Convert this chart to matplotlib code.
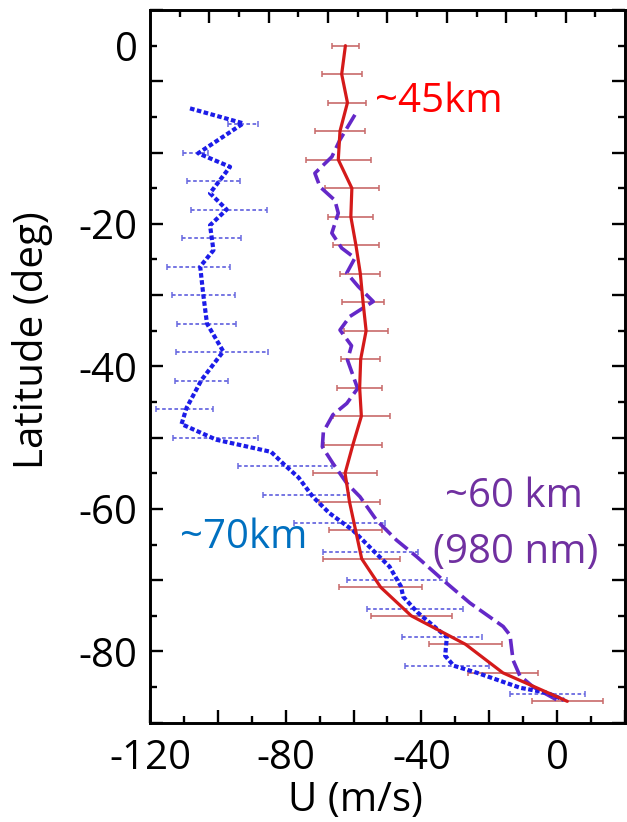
import matplotlib.pyplot as plt
import numpy as np

plt.rcParams['font.family'] = ['Open Sans', 'DejaVu Sans']

# ~45 km profile (red): latitude, zonal wind, error half width
lat45 = [5, 1, -3, -7, -11, -15, -19, -23, -27, -31, -35, -39, -43, -47,
         -51, -55, -59, -63, -67, -71, -75, -79, -83, -87]
u45 = [-62.4, -63.5, -61.8, -64.0, -64.5, -60.5, -60.8, -59.3, -58.0, -57.2,
       -56.3, -57.9, -58.2, -57.7, -60.2, -62.5, -61.2, -59.4, -57.6, -52.0,
       -43.0, -27.0, -16.0, 3.0]
err45 = [4.0, 5.9, 5.6, 7.4, 9.6, 8.0, 6.6, 6.9, 5.9, 6.3, 6.5, 5.7, 6.7, 8.4,
         8.6, 9.4, 9.1, 7.7, 11.3, 12.2, 12.0, 10.8, 10.4, 10.5]

# ~70 km profile (blue): curve
lat70 = [-3.8, -5.9, -10.1, -12.0, -15.7, -18.0, -20.2, -23.7, -26.0, -29.9,
         -34.0, -37.9, -41.9, -45.8, -48.1, -50.3, -52.0, -53.8, -55.6, -58.3,
         -60.6, -63.0, -65.8, -68.1, -70.9, -72.3, -74.5, -78.0, -80.6, -82.0,
         -83.0, -85.1, -85.8, -86.8]
u70 = [-108.2, -92.5, -105.8, -96.4, -102.3, -97.4, -102.3, -101.3, -105.2,
       -104.3, -103.2, -98.4, -104.8, -109.2, -110.7, -100.4, -84.3, -80.4,
       -76.2, -72.0, -67.1, -60.2, -54.3, -49.4, -46.0, -45.4, -41.2, -32.5,
       -33.0, -30.5, -23.6, -10.9, -3.0, 2.0]
# ~70 km error bars
lat70_bar = [-6, -10, -14, -18, -22, -26, -30, -34, -38, -42, -46, -50, -54,
             -58, -62, -66, -70, -74, -78, -82, -86]
u70_bar = [-92.5, -106.5, -101.3, -96.8, -101.9, -105.7, -104.3, -103.3,
           -98.7, -104.9, -109.8, -100.7, -80.3, -73.9, -64.2, -55.0, -47.3,
           -41.9, -34.0, -32.5, -2.9]
err70 = [4.4, 3.7, 7.9, 11.2, 8.8, 9.3, 9.3, 8.8, 13.6, 7.8, 8.4, 12.6, 13.8,
         12.7, 13.4, 14.1, 14.7, 14.2, 11.8, 12.3, 11.1]

# ~60 km profile (980 nm, purple)
lat60 = [-4.7, -8.2, -10.6, -12.9, -14.8, -16.7, -18.5, -21.3, -23.4, -24.8,
         -26.9, -28.8, -30.9, -33.0, -34.9, -37.1, -39.1, -43.1, -45.2, -46.8,
         -49.2, -51.3, -53.6, -56.4, -58.3, -61.6, -64.4, -66.7, -70.0, -73.2,
         -76.5, -77.7, -81.2, -83.4, -85.0, -86.8]
u60 = [-59.6, -64.0, -66.4, -71.4, -69.9, -65.5, -64.5, -66.4, -63.5, -59.6,
       -62.0, -58.6, -54.2, -61.1, -64.0, -60.6, -61.8, -58.8, -62.0, -66.1,
       -68.9, -69.2, -66.1, -62.0, -58.1, -53.2, -47.3, -41.4, -33.6, -25.7,
       -15.9, -13.9, -13.0, -11.0, -7.0, -0.1]

fig, ax = plt.subplots(figsize=(6.27, 8.22), dpi=100)
fig.subplots_adjust(left=0.2392, right=0.9968, bottom=0.1208, top=0.9878)

# top axis has its own finer tick spacing
ax2 = ax.twiny()
ax2.set_xlim(0, 16)
ax2.set_xticks(np.arange(2, 16, 2))
ax2.set_xticks(np.arange(1, 16, 2), minor=True)
ax2.tick_params(which='both', direction='in', width=1.7, labeltop=False)
ax2.tick_params(which='major', length=9.4)
ax2.tick_params(which='minor', length=5)

eb = ax.errorbar(u45, lat45, xerr=err45, fmt='none', ecolor='#c86a6a',
                 elinewidth=1.2, capsize=2.2, capthick=1.1, zorder=2)
eb2 = ax.errorbar(u70_bar, lat70_bar, xerr=err70, fmt='none', ecolor='#6a6ae0',
                  elinewidth=1.3, capsize=2.2, capthick=1.1, zorder=2)
eb2[2][0].set_linestyle((0, (2.0, 1.4)))

ax.plot(u60, lat60, color='#6428c8', lw=2.6, dashes=(4.5, 1.6),
        dash_joinstyle='round', zorder=3)
ax.plot(u70, lat70, color='#1c1ce8', lw=3.0, dashes=(1.1, 0.6),
        dash_joinstyle='round', zorder=4)
ax.plot(u45, lat45, color='#d41a1a', lw=2.3, solid_joinstyle='round',
        solid_capstyle='round', zorder=5)

ax.set_xlim(-120, 20)
ax.set_ylim(-90, 10)

ax.set_xticks(np.arange(-120, 21, 20),
              labels=['-120', '', '-80', '', '-40', '', '0', ''])
ax.set_xticks(np.arange(-110, 20, 20), minor=True)
ax.set_yticks(np.arange(-90, 11, 10),
              labels=['', '-80', '', '-60', '', '-40', '', '-20', '', '', ''])
ax.set_yticks(np.arange(-85, 10, 10),
              labels=['', '', '', '', '', '', '', '', '', '0'], minor=True)

ax.tick_params(which='both', direction='in', right=True, width=1.7,
               labelsize=29)
ax.tick_params(which='major', length=9.4)
ax.tick_params(which='minor', length=5)
ax.tick_params(axis='y', which='both', pad=9)
ax.tick_params(axis='x', which='both', pad=11.5)
for a in (ax, ax2):
    for s in a.spines.values():
        s.set_linewidth(1.9)

ax.text(-34.8, -4.3, '~45km', color='#ff0000', fontsize=29,
        ha='center', va='baseline')
ax.text(-92.3, -65.5, '~70km', color='#0070c0', fontsize=29,
        ha='center', va='baseline')
ax.text(-12.6, -59.7, '~60 km', color='#7030a0', fontsize=29,
        ha='center', va='baseline')
ax.text(-12.3, -67.6, '(980 nm)', color='#7030a0', fontsize=29,
        ha='center', va='baseline')

ax.set_ylabel('Latitude (deg)', fontsize=29)
ax.yaxis.set_label_coords(-0.204, 0.537)
ax.set_xlabel('U (m/s)', fontsize=29)
ax.xaxis.set_label_coords(0.4316, -0.0804)

fig.savefig('out.png', dpi=100)
